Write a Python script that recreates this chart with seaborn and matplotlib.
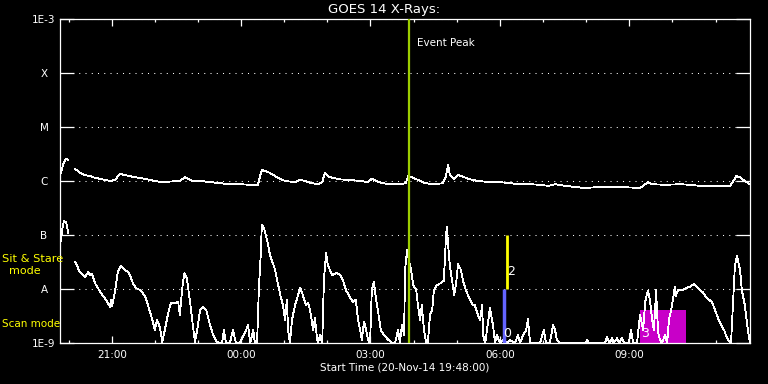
import numpy as np
import pandas as pd
import matplotlib
matplotlib.use("Agg")
import matplotlib.pyplot as plt
import seaborn as sns

# ---------------- data (hours after start 19:48, log10 flux W/m^2) ----------------
start_clock = 19.8  # 19:48
long_hours = [0.02, 0.07, 0.12, 0.14, 0.19, np.nan,
              0.35, 0.42, 0.46, 0.58, 0.70, 0.81, 0.93, 1.04, 1.16, 1.28, 1.34, 1.39, 1.51, 1.62,
              1.74, 1.97, 2.20, 2.37, 2.55, 2.78, 2.85, 2.90, 2.97, 3.06, 3.25, 3.48, 3.71, 3.94,
              4.17, 4.41, 4.59, 4.64, 4.68, 4.75, 4.87, 4.99, 5.10, 5.22, 5.33, 5.45, 5.57, 5.68,
              5.84, 5.98, 6.08, 6.14, 6.21, 6.31, 6.49, 6.72, 6.96, 7.14, 7.23, 7.33, 7.47, 7.65,
              7.88, 8.02, 8.07, 8.16, 8.30, 8.46, 8.70, 8.88, 8.95, 9.00, 9.04, 9.14, 9.23, 9.32,
              9.46, 9.69, 9.97, 10.20, 10.43, 10.67, 10.90, 11.13, 11.32, 11.48, 11.71, 11.94,
              12.17, 12.52, 12.99, 13.45, 13.57, 13.63, 13.73, 14.03, 14.38, 14.61, 14.84, 15.07,
              15.54, 15.63, 15.68, 15.77, 15.88, 16.00]
long_logflux = [-5.85, -5.70, -5.61, -5.59, -5.61, np.nan,
                -5.78, -5.81, -5.85, -5.89, -5.91, -5.94, -5.96, -5.98, -6.00, -5.98, -5.91, -5.87, -5.89, -5.91,
                -5.93, -5.96, -6.00, -6.02, -6.01, -6.00, -5.96, -5.93, -5.96, -6.00, -6.00, -6.02, -6.04, -6.06,
                -6.06, -6.07, -6.07, -5.91, -5.80, -5.81, -5.85, -5.91, -5.96, -6.00, -6.01, -6.02, -5.98, -6.00,
                -6.04, -6.06, -6.02, -5.85, -5.91, -5.94, -5.97, -5.98, -6.00, -6.02, -5.96, -6.00, -6.04, -6.06,
                -6.06, -6.04, -5.91, -5.93, -5.98, -6.04, -6.06, -6.04, -5.91, -5.70, -5.89, -5.96, -5.89, -5.91,
                -5.96, -6.00, -6.02, -6.02, -6.04, -6.06, -6.06, -6.07, -6.09, -6.06, -6.09, -6.11,
                -6.13, -6.11, -6.11, -6.13, -6.06, -6.02, -6.06, -6.07, -6.06, -6.07, -6.09, -6.09,
                -6.09, -5.98, -5.91, -5.93, -6.00, -6.06]

short_hours = [0.02, 0.05, 0.09, 0.14, 0.19, np.nan,
               0.35, 0.39, 0.46, 0.53, 0.58, 0.65, 0.70, 0.74, 0.81, 0.93, 1.00, 1.04, 1.11, 1.16,
               1.18, 1.21, 1.28, 1.34, 1.41, 1.51, 1.58, 1.62, 1.69, 1.76, 1.86, 1.97, 2.04, 2.09,
               2.13, 2.20, 2.25, 2.32, 2.37, 2.43, 2.50, 2.57, 2.67, 2.74, 2.78, 2.83, 2.88, 2.94,
               3.01, 3.08, 3.13, 3.18, 3.25, 3.32, 3.39, 3.48, 3.55, 3.64, 3.71, 3.76, 3.80, 3.85,
               3.94, 4.01, 4.08, 4.17, 4.29, 4.36, 4.41, 4.48, 4.52, 4.57, 4.61, 4.66, 4.68, 4.73,
               4.80, 4.87, 4.99, 5.06, 5.12, 5.17, 5.22, 5.26, 5.29, 5.33, 5.38, 5.45, 5.52, 5.57,
               5.63, 5.70, 5.75, 5.80, 5.87, 5.91, 5.96, 5.98, 6.03, 6.08, 6.12, 6.17, 6.21, 6.31,
               6.38, 6.42, 6.49, 6.56, 6.63, 6.72, 6.79, 6.86, 6.91, 6.96, 7.00, 7.05, 7.10, 7.14,
               7.19, 7.23, 7.28, 7.33, 7.37, 7.44, 7.51, 7.61, 7.70, 7.77, 7.84, 7.88, 7.93, 7.98,
               8.00, 8.05, 8.09, 8.14, 8.19, 8.26, 8.30, 8.35, 8.39, 8.44, 8.49, 8.53, 8.58, 8.63,
               8.67, 8.74, 8.83, 8.90, 8.95, 8.97, 9.00, 9.04, 9.09, 9.14, 9.18, 9.23, 9.30, 9.34,
               9.41, 9.51, 9.58, 9.62, 9.69, 9.74, 9.79, 9.81, 9.86, 9.90, 9.97, 10.04, 10.09, 10.13,
               10.20, 10.27, 10.37, 10.43, 10.55, 10.62, 10.67, 10.74, 10.81, 10.85, 10.90, 11.01,
               11.13, 11.22, 11.27, 11.36, 11.43, 11.48, 11.52, 11.59, 12.20, 12.22, 12.27, 12.64,
               12.68, 12.75, 12.80, 12.84, 12.92, 12.96, 13.03, 13.08, 13.19, 13.24, 13.29, 13.38,
               13.45, 13.52, 13.57, 13.63, 13.68, 13.73, 13.77, 13.80, 13.82, 13.87, 13.91, 13.96,
               14.03, 14.08, 14.12, 14.17, 14.21, 14.26, 14.28, 14.33, 14.38, 14.45, 14.52, 14.61,
               14.70, 14.77, 14.84, 14.91, 14.98, 15.05, 15.12, 15.19, 15.26, 15.33, 15.40, 15.44,
               15.49, 15.56, 15.61, 15.65, 15.70, 15.77, 15.81, 15.88, 15.95, 16.00]
short_logflux = [-7.12, -6.91, -6.74, -6.76, -6.96, np.nan,
                 -7.49, -7.56, -7.69, -7.74, -7.78, -7.69, -7.74, -7.72, -7.89, -8.05, -8.13, -8.17, -8.26, -8.33,
                 -8.20, -8.31, -8.02, -7.69, -7.57, -7.65, -7.69, -7.74, -7.89, -7.98, -8.02, -8.13, -8.30, -8.43,
                 -8.54, -8.76, -8.57, -8.72, -8.98, -8.76, -8.48, -8.26, -8.26, -8.24, -8.48, -8.02, -7.71, -7.80,
                 -8.20, -8.67, -8.98, -8.76, -8.39, -8.33, -8.39, -8.67, -8.85, -8.98, -9.00, -9.00, -8.76, -9.00,
                 -9.00, -8.76, -9.00, -9.00, -8.81, -8.67, -9.00, -8.76, -9.00, -9.00, -8.02, -7.28, -6.81, -6.87,
                 -7.09, -7.37, -7.65, -7.93, -8.15, -8.30, -8.57, -8.20, -8.76, -9.00, -8.57, -8.30, -8.11, -7.98,
                 -8.11, -8.30, -8.26, -8.39, -8.76, -8.54, -8.91, -9.00, -8.85, -9.00, -7.83, -7.33, -7.56, -7.74,
                 -7.72, -7.70, -7.74, -7.83, -8.02, -8.15, -8.24, -8.20, -8.57, -8.76, -8.94, -8.61, -8.76, -8.94,
                 -9.00, -8.02, -7.87, -8.20, -8.39, -8.76, -8.85, -8.94, -9.00, -9.00, -8.76, -9.00, -8.67, -8.85,
                 -7.65, -7.28, -7.46, -7.65, -7.93, -8.02, -8.30, -8.57, -8.30, -8.76, -9.00, -9.00, -8.48, -8.39,
                 -8.02, -7.93, -7.89, -7.85, -7.04, -6.85, -7.19, -7.56, -7.83, -8.11, -7.93, -7.54, -7.65, -7.83,
                 -8.02, -8.20, -8.30, -8.30, -8.48, -8.57, -8.30, -8.85, -9.00, -8.76, -8.35, -8.67, -9.00, -8.85,
                 -9.00, -8.94, -9.00, -8.94, -9.00, -8.85, -9.00, -8.85, -8.76, -8.56, -9.00, -9.00,
                 -9.00, -8.76, -9.00, -9.00, -8.67, -8.76, -8.94, -9.00, -9.00, -8.94, -9.00, -9.00,
                 -8.89, -9.00, -8.91, -9.00, -8.91, -9.00, -8.91, -9.00, -9.00, -8.76, -9.00, -9.00,
                 -8.48, -8.76, -8.24, -8.03, -8.20, -8.57, -8.76, -8.39, -8.02, -8.81, -8.94, -9.00,
                 -8.85, -9.00, -8.57, -8.39, -8.20, -7.96, -8.13, -8.02, -8.02, -8.02, -7.98, -7.96,
                 -7.91, -7.96, -8.02, -8.06, -8.15, -8.20, -8.24, -8.39, -8.54, -8.67, -8.76, -8.85,
                 -8.94, -9.00, -8.20, -7.56, -7.39, -7.65, -8.02, -8.30, -8.76, -9.00]

event_peak_hours = 8.09
sit_stare_hours = 10.36
scan_hours = 10.30
region3_hours = [13.45, 14.52]
region3_top_log = -8.39

y_levels = [1e-9, 1e-8, 1e-7, 1e-6, 1e-5, 1e-4, 1e-3]
y_labels = ["1E-9", "A", "B", "C", "M", "X", "1E-3"]
x_major_clock = [21, 0, 3, 6, 9]
x_major_labels = ["21:00", "00:00", "03:00", "06:00", "09:00"]
x_minor_clock = [20, 21, 22, 23, 0, 1, 2, 3, 4, 5, 6, 7, 8, 9, 10, 11]

# ---------------- build table ----------------
def make_frame(h, v, name):
    d = pd.DataFrame({"hours": h, "logflux": v})
    d["segment"] = name + d["hours"].isna().cumsum().astype(str)
    d = d.dropna()
    d["flux"] = 10 ** d["logflux"]
    d["channel"] = name
    return d

df = pd.concat([make_frame(long_hours, long_logflux, "long"),
                make_frame(short_hours, short_logflux, "short")], ignore_index=True)

# ---------------- style ----------------
sns.set_theme(style="dark", rc={
    "figure.facecolor": "black", "axes.facecolor": "black", "savefig.facecolor": "black",
    "axes.edgecolor": "white", "text.color": "white", "xtick.color": "white",
    "ytick.color": "white", "axes.labelcolor": "white", "axes.grid": False,
})
plt.rcParams["font.family"] = ["DejaVu Sans"]

fig = plt.figure(figsize=(7.68, 3.84), dpi=100)
ax = fig.add_axes([60 / 768, 41 / 384, 690 / 768, 324 / 384])

sns.lineplot(data=df, x="hours", y="flux", hue="channel", units="segment", estimator=None,
             palette={"long": "white", "short": "white"}, legend=False, sort=False,
             linewidth=0.6, antialiased=False, ax=ax, zorder=3)

ax.set_yscale("log")
ax.set_ylim(1e-9, 1e-3)
ax.set_xlim(0, 16)

# region/markers
ax.fill_between(region3_hours, 1e-9, 10 ** region3_top_log, color="#c800c8", linewidth=0, zorder=1)
ax.axvline(event_peak_hours, color="#9ccd00", linewidth=1.6, zorder=4)
ax.vlines(sit_stare_hours, 1e-8, 1e-7, color="#ffff00", linewidth=2, zorder=4)
ax.vlines(scan_hours, 1e-9, 1e-8, color="#6464ff", linewidth=2.5, zorder=4)

ax.annotate("Event Peak", xy=(event_peak_hours, 1), xycoords=("data", "axes fraction"),
            xytext=(5.5, -17.5), textcoords="offset points", ha="left", va="center",
            color="white", fontsize=7.5)
ax.text(sit_stare_hours + 0.1, 2.15e-8, "2", color="white", fontsize=9, ha="center", va="center", zorder=5)
ax.text(scan_hours + 0.07, 1.5e-9, "0", color="white", fontsize=9, ha="center", va="center", zorder=5)
ax.text(region3_hours[0] + 0.12, 1.5e-9, "3", color="white", fontsize=9, ha="center", va="center", zorder=5)

# ticks
def to_offset(c):
    return (c - start_clock) % 24

ax.set_yticks(y_levels)
ax.set_yticklabels(y_labels)
ax.yaxis.set_minor_locator(matplotlib.ticker.NullLocator())
for lab in ax.get_yticklabels():
    lab.set_horizontalalignment("center")
ax.tick_params(axis="y", which="major", direction="in", left=True, right=True,
               length=10, width=0.9, pad=11.5, labelsize=7.5, colors="white")

ax.set_xticks([to_offset(c) for c in x_major_clock])
ax.set_xticklabels(x_major_labels)
ax.set_xticks([to_offset(c) for c in x_minor_clock], minor=True)
ax.tick_params(axis="x", which="major", direction="in", top=True, bottom=True,
               length=5, width=0.9, pad=5, labelsize=7.5, colors="white")
ax.tick_params(axis="x", which="minor", direction="in", top=True, bottom=True,
               length=2.3, width=0.9, colors="white")

ax.grid(axis="y", which="major", color="white", linestyle=(0, (1, 5)), linewidth=0.75)
ax.set_axisbelow(True)
for s in ax.spines.values():
    s.set_color("white")
    s.set_linewidth(0.9)
ax.set_xlabel("")
ax.set_ylabel("")

fig.text(0.5, 1 - 9 / 384, "GOES 14 X-Rays:", ha="center", va="center", color="white", fontsize=9.5)
fig.text(405 / 768, 1 - 367 / 384, "Start Time (20-Nov-14 19:48:00)", ha="center", va="center",
         color="white", fontsize=7.5)
fig.text(2 / 768, 1 - 259 / 384, "Sit & Stare", ha="left", va="center", color="#ffff00", fontsize=8.2)
fig.text(24.5 / 768, 1 - 271 / 384, "mode", ha="center", va="center", color="#ffff00", fontsize=8)
fig.text(2 / 768, 1 - 324 / 384, "Scan mode", ha="left", va="center", color="#ffff00", fontsize=7.5)

fig.savefig("out.png", dpi=100, facecolor="black")
